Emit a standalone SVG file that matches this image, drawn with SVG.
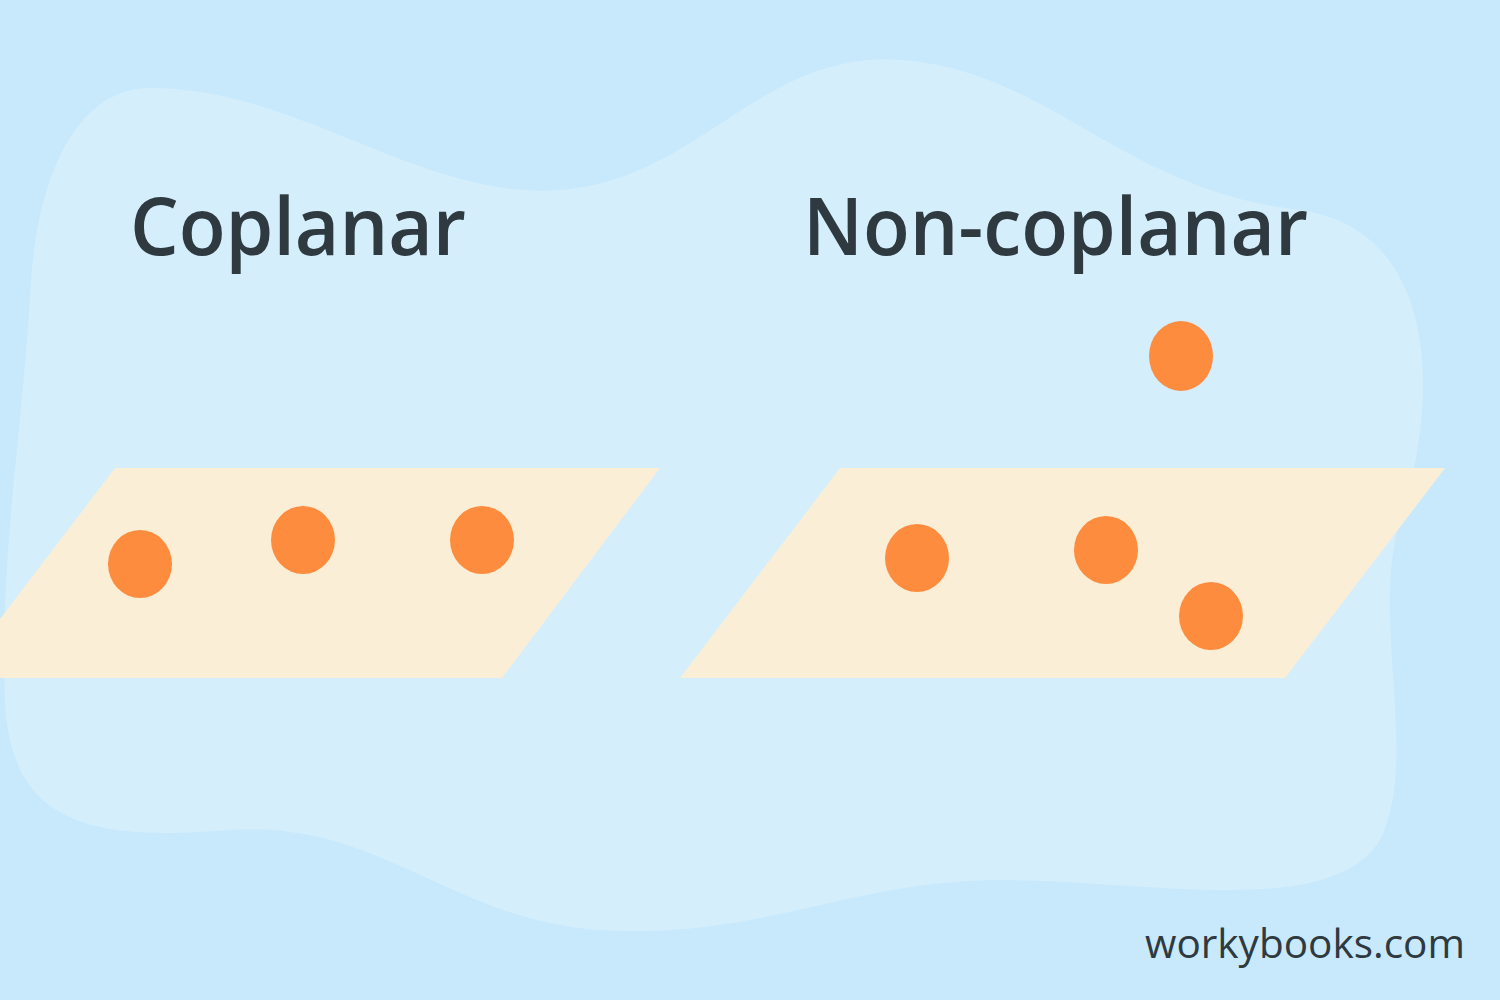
<svg xmlns="http://www.w3.org/2000/svg" width="1500" height="1000" viewBox="0 0 1500 1000">
<style>
.t{font-family:"Open Sans","Liberation Sans",sans-serif;font-weight:600;fill:#2e3a40}
.p{fill:#faefd6}
.d{fill:#fe8c3e}
</style>
<rect width="1500" height="1000" fill="#c8e9fc"/>
<path d="M150,88 C300,88 420,200 560,190 C700,180 760,50 900,60 C1050,70 1120,190 1300,210 C1440,230 1440,400 1400,520 C1370,620 1420,760 1380,840 C1330,920 1150,880 1000,880 C850,880 760,940 600,930 C450,920 380,820 230,830 C100,840 10,830 5,700 C0,560 20,450 30,300 C35,170 80,88 150,88 Z" fill="#d5eefc"/>
<g id="plane-left"><polygon class="p" points="115,468 660,468 502,678 -45,678"/></g>
<g id="plane-right"><polygon class="p" points="840,468 1445,468 1285,678 680,678"/></g>
<g id="dots">
<ellipse class="d" cx="140" cy="564" rx="32" ry="34"/>
<ellipse class="d" cx="303" cy="540" rx="32" ry="34"/>
<ellipse class="d" cx="482" cy="540" rx="32" ry="34"/>
<ellipse class="d" cx="917" cy="558" rx="32" ry="34"/>
<ellipse class="d" cx="1106" cy="550" rx="32" ry="34"/>
<ellipse class="d" cx="1211" cy="616" rx="32" ry="34"/>
<ellipse class="d" cx="1181" cy="356" rx="32" ry="35"/>
</g>
<text class="t" x="130" y="255" font-size="80" textLength="336" lengthAdjust="spacingAndGlyphs">Coplanar</text>
<text class="t" x="803" y="255" font-size="80" textLength="505" lengthAdjust="spacingAndGlyphs">Non-coplanar</text>
<text x="1145" y="958" font-size="40" font-family="'Open Sans','Liberation Sans',sans-serif" fill="#2e3a40" textLength="320" lengthAdjust="spacingAndGlyphs">workybooks.com</text>
</svg>
